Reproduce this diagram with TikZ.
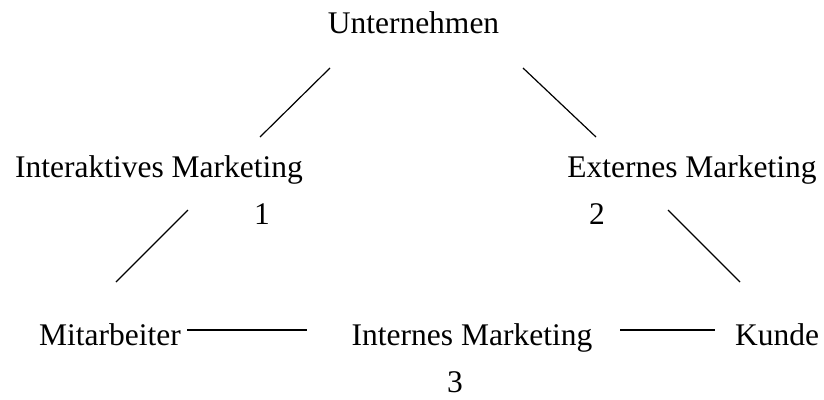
\documentclass[tikz,border=0pt]{standalone}
\usepackage{fontspec}
\setmainfont{Liberation Serif}

\tikzset{
    label text/.style={anchor=base, inner sep=0pt, font=\fontsize{31.5}{37}\selectfont},
    link/.style={line width=1.2pt}
}

\begin{document}
\begin{tikzpicture}[x=1pt, y=-1pt]
        \useasboundingbox (0,0) rectangle (824,399);

        % Top of the triangle
        \node[label text] (firm) at (413.5,33) {Unternehmen};

        % Middle row with the two kinds of marketing
        \node[label text] (interactive) at (159,177) {Interaktives Marketing};
        \node[label text] (external) at (692,177) {Externes Marketing};
        \node[label text] (n1) at (262,224) {1};
        \node[label text] (n2) at (597,224) {2};

        % Bottom row
        \node[label text] (staff) at (110,345) {Mitarbeiter};
        \node[label text] (internal) at (472,345) {Internes Marketing};
        \node[label text] (client) at (777,345) {Kunde};
        \node[label text] (n3) at (455,392) {3};

        % Line ends
        \coordinate (firmL) at (330,68);
        \coordinate (interU) at (260,137);
        \coordinate (firmR) at (523,68);
        \coordinate (extU) at (596,137);
        \coordinate (interD) at (188,210);
        \coordinate (staffU) at (116,282);
        \coordinate (extD) at (668,210);
        \coordinate (clientU) at (740,282);
        \coordinate (staffR) at (187,330);
        \coordinate (internalL) at (307,330);
        \coordinate (internalR) at (620,330);
        \coordinate (clientL) at (715,330);

        % Connecting lines
        \draw[link] (firmL) -- (interU);
        \draw[link] (firmR) -- (extU);
        \draw[link] (interD) -- (staffU);
        \draw[link] (extD) -- (clientU);
        \draw[link] (staffR) -- (internalL);
        \draw[link] (internalR) -- (clientL);

    \end{tikzpicture}
\end{document}
